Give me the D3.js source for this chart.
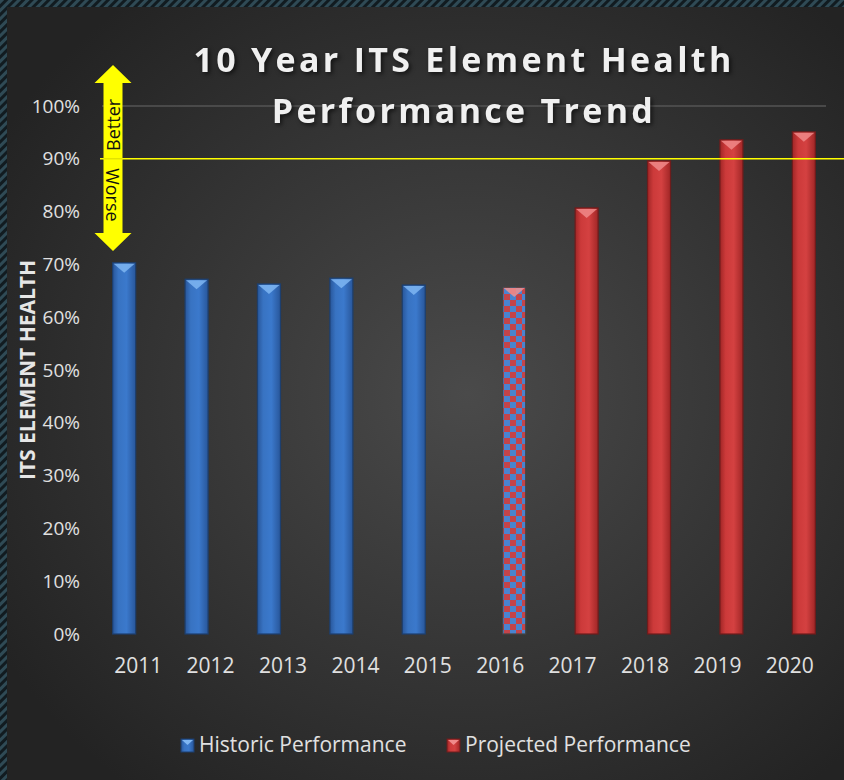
<!DOCTYPE html>
<html>
<head>
<meta charset="utf-8">
<script src="https://cdn.jsdelivr.net/npm/d3@7"></script>
<style>
  html, body { margin: 0; padding: 0; background: #222; }
  svg { display: block; }
</style>
</head>
<body>
<div id="chart"></div>
<script>
// chart data
const years = ["2011", "2012", "2013", "2014", "2015", "2016", "2017", "2018", "2019", "2020"];
const historic = [0.703, 0.672, 0.663, 0.674, 0.661, null, null, null, null, null];
const projected = [null, null, null, null, null, 0.657, 0.807, 0.896, 0.936, 0.951];
const checkeredYears = ["2016"];
const yTicks = [0, 0.1, 0.2, 0.3, 0.4, 0.5, 0.6, 0.7, 0.8, 0.9, 1.0];
const target = 0.9;
const seriesKeys = ["historic", "projected"];
const seriesLabels = ["Historic Performance", "Projected Performance"];

const W = 844, H = 780;
const margin = { top: 106, right: 18, bottom: 146, left: 102 };
const font = "'Open Sans', 'DejaVu Sans', sans-serif";

const svg = d3.select("#chart").append("svg")
    .attr("width", W)
    .attr("height", H);

const defs = svg.append("defs");

// background
const bg = defs.append("radialGradient").attr("id", "bg")
    .attr("cx", "55%").attr("cy", "50%").attr("r", "65%");
bg.append("stop").attr("offset", "0%").attr("stop-color", "#4a4a4a");
bg.append("stop").attr("offset", "100%").attr("stop-color", "#232323");

// hatched frame
const hatch = defs.append("pattern").attr("id", "hatch")
    .attr("width", 6).attr("height", 6)
    .attr("patternUnits", "userSpaceOnUse")
    .attr("patternTransform", "rotate(45)");
hatch.append("rect").attr("width", 6).attr("height", 6).attr("fill", "#111b20");
hatch.append("rect").attr("width", 3).attr("height", 6).attr("fill", "#2f4a55");

svg.append("rect").attr("width", W).attr("height", H).attr("fill", "url(#hatch)");
svg.append("rect").attr("x", 7).attr("y", 7).attr("width", W - 7).attr("height", H - 7)
    .attr("fill", "url(#bg)");

// bar gradients
function barGrad(id, dark, mid, light) {
    const g = defs.append("linearGradient").attr("id", id)
        .attr("x1", "0%").attr("x2", "100%").attr("y1", "0%").attr("y2", "0%");
    g.append("stop").attr("offset", "0%").attr("stop-color", dark);
    g.append("stop").attr("offset", "25%").attr("stop-color", mid);
    g.append("stop").attr("offset", "60%").attr("stop-color", light);
    g.append("stop").attr("offset", "100%").attr("stop-color", dark);
}
barGrad("gHistoric", "#28569a", "#3873c2", "#3b79cc");
barGrad("gProjected", "#a02626", "#cc3a3a", "#d44141");

const checker = defs.append("pattern").attr("id", "gMixed")
    .attr("width", 12).attr("height", 12)
    .attr("patternUnits", "userSpaceOnUse");
checker.append("rect").attr("width", 12).attr("height", 12).attr("fill", "#c4444a");
checker.append("rect").attr("width", 6).attr("height", 6).attr("fill", "#4a84d0");
checker.append("rect").attr("x", 6).attr("y", 6).attr("width", 6).attr("height", 6).attr("fill", "#4a84d0");

const fills = { historic: "url(#gHistoric)", projected: "url(#gProjected)", mixed: "url(#gMixed)" };
const edges = { historic: "#1d3f6e", projected: "#6e1c1c", mixed: "#444" };
const caps = { historic: "#7fb6f2", projected: "#f08a8a", mixed: "#f09090" };

// scales
const x = d3.scaleBand()
    .domain(years)
    .range([margin.left, W - margin.right])
    .padding(0);

const xs = d3.scaleBand()
    .domain(seriesKeys)
    .range([0, x.bandwidth()])
    .paddingInner(0.18)
    .paddingOuter(0.38);

const y = d3.scaleLinear()
    .domain([0, 1])
    .range([H - margin.bottom, margin.top]);

// top gridline
svg.append("line")
    .attr("x1", x.range()[0]).attr("x2", x.range()[1])
    .attr("y1", y(1)).attr("y2", y(1))
    .attr("stroke", "#555").attr("stroke-width", 1.5);

// y axis
const yAxis = svg.append("g")
    .attr("transform", `translate(${margin.left - 20},0)`)
    .call(d3.axisLeft(y).tickValues(yTicks).tickFormat(d3.format(".0%")).tickSize(0).tickPadding(2));
yAxis.select(".domain").remove();
yAxis.selectAll("text")
    .attr("fill", "#e0e0e0")
    .style("font", `19px ${font}`);

svg.append("text")
    .attr("transform", `translate(35, ${y(0.5)}) rotate(-90)`)
    .attr("text-anchor", "middle")
    .attr("fill", "#e6e6e6")
    .style("font", `bold 21px ${font}`)
    .text("ITS ELEMENT HEALTH");

// x axis
const xAxis = svg.append("g")
    .attr("transform", `translate(0,${y(0)})`)
    .call(d3.axisBottom(x).tickSize(0).tickPadding(24));
xAxis.select(".domain").remove();
xAxis.selectAll("text")
    .attr("fill", "#e0e0e0")
    .style("font", `21px ${font}`);

// bars
const data = [];
years.forEach((yr, i) => {
    if (historic[i] != null) data.push({ year: yr, series: "historic", value: historic[i] });
    if (projected[i] != null) data.push({ year: yr, series: "projected", value: projected[i] });
});
data.forEach(d => { d.style = checkeredYears.includes(d.year) ? "mixed" : d.series; });

const bars = svg.append("g").selectAll("g")
    .data(data)
    .enter().append("g");

bars.append("rect")
    .attr("x", d => x(d.year) + xs(d.series))
    .attr("y", d => y(d.value))
    .attr("width", xs.bandwidth())
    .attr("height", d => y(0) - y(d.value))
    .attr("fill", d => fills[d.style])
    .attr("stroke", d => edges[d.style])
    .attr("stroke-width", 1.2);

// bevel highlight at bar tops
bars.append("path")
    .attr("d", d => {
        const x0 = x(d.year) + xs(d.series) + 1, x1 = x0 + xs.bandwidth() - 2, t = y(d.value) + 1;
        const mx = (x0 + x1) / 2;
        return `M${x0},${t} L${x1},${t} L${mx},${t + 9} Z`;
    })
    .attr("fill", d => caps[d.style])
    .attr("opacity", 0.85);

// target line
svg.append("line")
    .attr("x1", 100).attr("x2", W)
    .attr("y1", y(target)).attr("y2", y(target))
    .attr("stroke", "#ffff00").attr("stroke-width", 1.6);

// better / worse arrow
const ax = 113, aTop = 65, aBot = 251, head = 18, shaft = 9.5, headW = 18.5;
svg.append("path")
    .attr("d", `M${ax},${aTop} L${ax + headW},${aTop + head} L${ax + shaft},${aTop + head}
        L${ax + shaft},${aBot - head} L${ax + headW},${aBot - head} L${ax},${aBot}
        L${ax - headW},${aBot - head} L${ax - shaft},${aBot - head} L${ax - shaft},${aTop + head}
        L${ax - headW},${aTop + head} Z`)
    .attr("fill", "#ffff00");
svg.append("line")
    .attr("x1", ax - shaft).attr("x2", ax + shaft)
    .attr("y1", y(target)).attr("y2", y(target))
    .attr("stroke", "#d8d800").attr("stroke-width", 1);

svg.append("text")
    .attr("transform", `translate(${ax + 1}, ${(aTop + head + y(target)) / 2 + 4}) rotate(-90)`)
    .attr("text-anchor", "middle").attr("dy", "0.35em")
    .attr("fill", "#111")
    .style("font", `18px ${font}`)
    .text("Better");
svg.append("text")
    .attr("transform", `translate(${ax - 1}, ${(aBot - head + y(target)) / 2 - 1}) rotate(90)`)
    .attr("text-anchor", "middle").attr("dy", "0.35em")
    .attr("fill", "#111")
    .style("font", `18px ${font}`)
    .text("Worse");

// title
const title = svg.append("text")
    .attr("text-anchor", "middle")
    .attr("fill", "#f0f0f0")
    .style("font", `bold 34px ${font}`)
    .style("letter-spacing", "3.3px")
    .style("filter", "drop-shadow(2px 2px 2px rgba(0,0,0,0.6))");
title.append("tspan").attr("x", 464).attr("y", 72).text("10 Year ITS Element Health");
title.append("tspan").attr("x", 464).attr("y", 123).text("Performance Trend");

// legend
const legend = svg.append("g").selectAll("g")
    .data(seriesKeys)
    .enter().append("g")
    .attr("transform", (d, i) => `translate(${[181, 447][i]}, 745)`);
legend.append("rect")
    .attr("x", 0).attr("y", -6)
    .attr("width", 13).attr("height", 13)
    .attr("fill", d => fills[d])
    .attr("stroke", d => edges[d]);
legend.append("path")
    .attr("d", "M1,-5 L12,-5 L6.5,0 Z")
    .attr("fill", d => caps[d]);
legend.append("text")
    .attr("x", 18).attr("dy", "0.35em")
    .attr("fill", "#e0e0e0")
    .style("font", `21px ${font}`)
    .text((d, i) => seriesLabels[i]);
</script>
</body>
</html>
